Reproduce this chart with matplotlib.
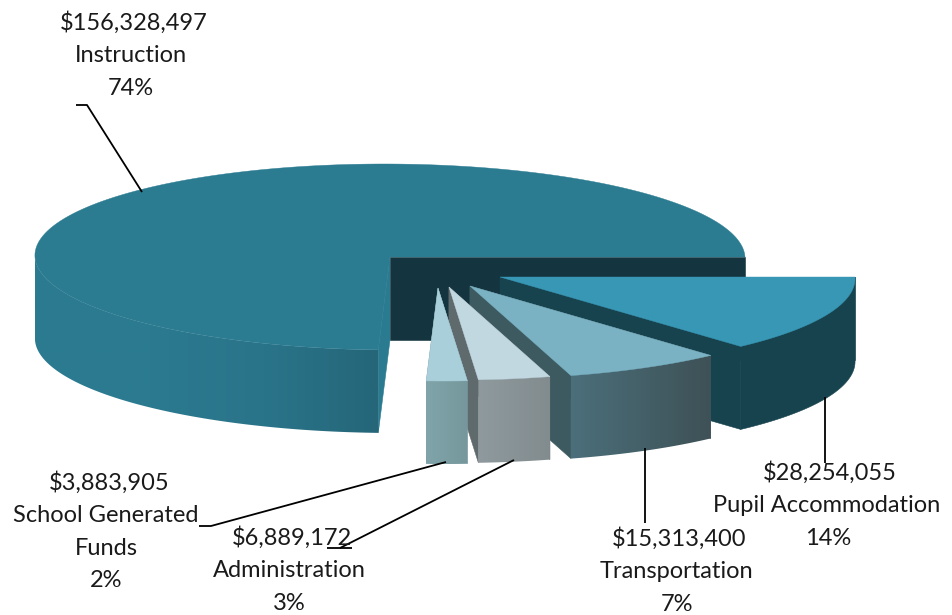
#!/usr/bin/env python3
# -*- coding: utf-8 -*-

import numpy as np
import matplotlib

matplotlib.use("Agg")
import matplotlib.pyplot as plt
from matplotlib.colors import LinearSegmentedColormap
from matplotlib.patches import Polygon

plt.rcParams["font.family"] = ["Lato", "DejaVu Sans"]

# Budget by category, clockwise from the 3 o'clock position
categories = [
    "Pupil Accommodation",
    "Transportation",
    "Administration",
    "School Generated Funds",
    "Instruction",
]
amounts = [28254055, 15313400, 6889172, 3883905, 156328497]
percents = [14, 7, 3, 2, 74]

# Wedge apex in pixels, all slices but Instruction are pulled out of the pie
apexes = [(500, 277), (470, 286), (449, 287), (438, 288), (390, 257)]
top_colors = ["#3897b5", "#7ab2c4", "#c2d8e0", "#a9cfda", "#2b7b91"]
# Flat faces at the start and at the end of each sweep
start_face_colors = ["#17434f", "#3c5a60", "#5f6a6d", "#76989d", "#2a7a90"]
end_face_colors = ["#17434f", "#3c5a60", "#5f6a6d", "#76989d", "#14353f"]
# A single colour means a plain rim, several mean a left to right gradient
rim_colors = [
    ["#17434f"],
    ["#4b6f7b", "#3e5156"],
    ["#8f9a9e", "#828c8f"],
    ["#7fa4a9", "#76989d"],
    ["#2b7b91", "#2b7a90", "#2a7489", "#256679"],
]

# Text lines and where each one is centered
label_lines = {
    "Instruction": ["$156,328,497", "Instruction", "74%"],
    "Pupil Accommodation": ["$28,254,055", "Pupil Accommodation", "14%"],
    "Transportation": ["$15,313,400", "Transportation", "7%"],
    "Administration": ["$6,889,172", "Administration", "3%"],
    "School Generated Funds": ["$3,883,905", "School Generated", "Funds", "2%"],
}
label_x = {
    "Instruction": [134, 131, 131],
    "Pupil Accommodation": [830, 827, 828],
    "Transportation": [679, 676, 677],
    "Administration": [292, 289, 289],
    "School Generated Funds": [109, 106, 106, 106],
}
label_y = {
    "Instruction": 23,
    "Pupil Accommodation": 473,
    "Transportation": 539,
    "Administration": 538,
    "School Generated Funds": 483,
}
leaders = [
    ([76, 87, 142], [105, 105, 192]),
    ([825, 825], [397, 463]),
    ([645, 645], [448, 523]),
    ([327, 352], [548, 548]),
    ([340, 514], [548, 460]),
    ([199, 211, 446], [526, 526, 462]),
]

RX, RY, DEPTH, SHEAR = 355, 93, 83, 6


def rim(apex, angles):
    # Points on the tilted circle; y grows downward in pixel space
    x = apex[0] + RX * np.cos(angles) - SHEAR * np.sin(angles)
    y = apex[1] - RY * np.sin(angles)
    return x, y


def flat_face(ax, apex, angle, color, zorder):
    xe, ye = rim(apex, angle)
    ax.fill(
        [apex[0], xe, xe, apex[0]],
        [apex[1], ye, ye + DEPTH, apex[1] + DEPTH],
        color=color,
        lw=0.4,
        zorder=zorder,
    )


def draw_rim(ax, index, start, end, zorder):
    # The back half of the rim is hidden, so stop at 9 o'clock
    angles = np.linspace(start, max(end, -np.pi), 200)
    x, y = rim(apexes[index], angles)
    outline = np.r_[np.c_[x, y], np.c_[x[::-1], y[::-1] + DEPTH]]
    stops = rim_colors[index]

    if len(stops) == 1:
        ax.fill(outline[:, 0], outline[:, 1], color=stops[0], lw=0.4, zorder=zorder)
        return

    cmap = LinearSegmentedColormap.from_list("rim", stops)
    image = ax.imshow(
        np.linspace(0, 1, 256).reshape(1, -1),
        cmap=cmap,
        extent=(x.min(), x.max(), y.max() + DEPTH, y.min()),
        aspect="auto",
        interpolation="bilinear",
        zorder=zorder,
    )
    image.set_clip_path(Polygon(outline, closed=True, transform=ax.transData))


def draw_slice(ax, index, start, end, zorder):
    apex = apexes[index]

    # Flat faces first, then the curved rim, then the top
    flat_face(ax, apex, start, start_face_colors[index], zorder)
    flat_face(ax, apex, end, end_face_colors[index], zorder)
    draw_rim(ax, index, start, end, zorder)

    x, y = rim(apex, np.linspace(start, end, 500))
    ax.fill(np.r_[apex[0], x], np.r_[apex[1], y], color=top_colors[index], lw=0.3, zorder=zorder)


fig = plt.figure(figsize=(9.52, 6.15), dpi=100)
ax = fig.add_axes([0, 0, 1, 1])
ax.set_xlim(0, 952)
ax.set_ylim(615, 0)
ax.axis("off")

total = sum(amounts)
edges = -np.cumsum([0] + [2 * np.pi * a / total for a in amounts])

# Instruction goes first, the pulled out slices sit in front of it
for zorder, i in enumerate([4, 0, 1, 2, 3], start=2):
    draw_slice(ax, i, edges[i], edges[i + 1], zorder)

for lx, ly in leaders:
    ax.plot(lx, ly, color="black", lw=1.3, zorder=8, solid_capstyle="butt")

for name in categories:
    for k, line in enumerate(label_lines[name]):
        ax.text(
            label_x[name][k],
            label_y[name] + k * 32.6,
            line,
            ha="center",
            va="center",
            fontsize=17,
            color="#1a1a1a",
            zorder=9,
        )

fig.savefig("out.png", dpi=100)
